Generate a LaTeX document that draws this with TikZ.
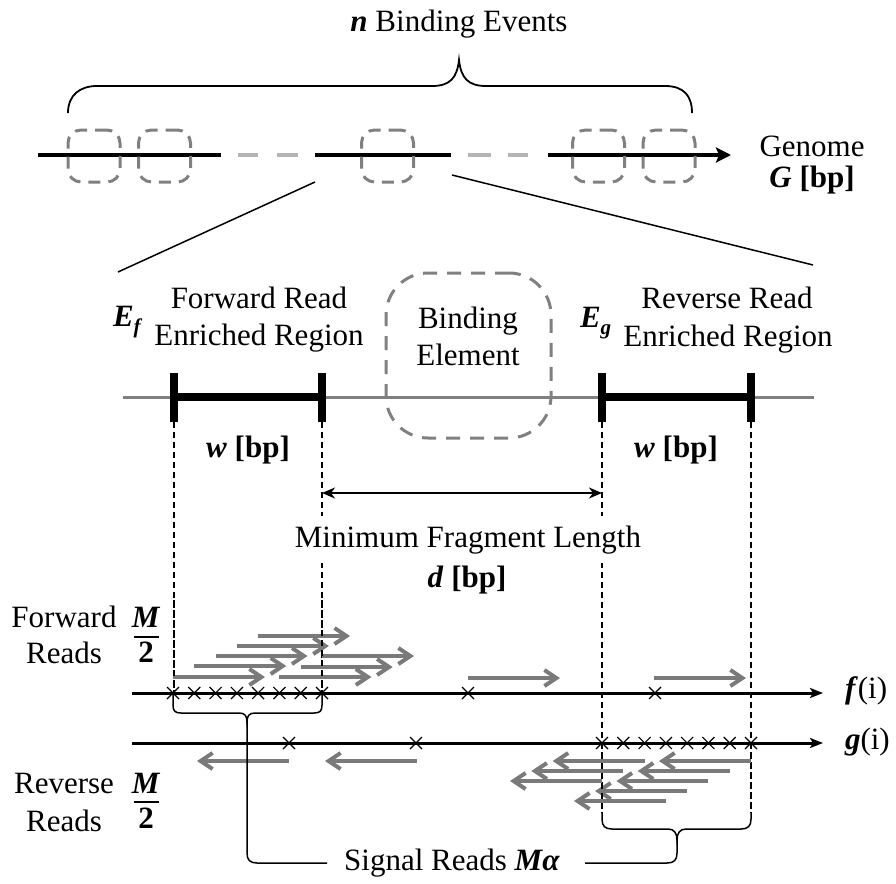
\documentclass[tikz,border=0pt]{standalone}
\usepackage{fontspec}
\setmainfont{Liberation Serif}
\usetikzlibrary{arrows.meta}
\newcommand{\bvar}[1]{\textbf{\textit{#1}}}
\definecolor{readgrey}{RGB}{122,122,122}
\definecolor{boxgrey}{RGB}{128,128,128}
\definecolor{gapgrey}{RGB}{180,180,180}
\begin{document}
\begin{tikzpicture}[x=1pt,y=-1pt,
  every node/.style={inner sep=0pt, outer sep=0pt, font=\fontsize{31}{38}\selectfont},
  genomeline/.style={line width=4.5pt},
  gapline/.style={line width=4.5pt, draw=gapgrey},
  ebox/.style={draw=boxgrey, line width=3pt, dash pattern=on 12pt off 8pt, rounded corners=13pt, minimum width=52pt, minimum height=52pt},
  bigbox/.style={draw=boxgrey, line width=3pt, dash pattern=on 14pt off 10pt, rounded corners=42pt, minimum width=165pt, minimum height=165pt},
  thin/.style={line width=1.5pt},
  guide/.style={line width=1.5pt, dash pattern=on 6pt off 4pt},
  region/.style={line width=8pt},
  fread/.style={draw=readgrey, line width=4pt, -{Straight Barb[length=12pt,width=16pt]}},
  axis/.style={line width=3pt, -{Stealth[length=13pt,width=10pt,inset=3pt]}},
  xmark/.style={line width=1.2pt},
  dimarrow/.style={line width=2pt, {Stealth[length=13pt,width=11pt,inset=4pt]}-{Stealth[length=13pt,width=11pt,inset=4pt]}},
]
\useasboundingbox (0,0) rectangle (896,883);

% ---------- genome ----------
\draw[genomeline] (38,155) -- (221,155);
\draw[gapline] (238,155) -- (258,155) (277,155) -- (298,155);
\draw[genomeline] (315,155) -- (451,155);
\draw[gapline] (468,155) -- (491,155) (508,155) -- (528,155);
\draw[genomeline, -{Stealth[length=15pt,width=15pt,inset=3pt]}] (548,155) -- (731,155);
\foreach \x [count=\i] in {94,164.5,387.5,598.5,669}
  \node[ebox] (be\i) at (\x,156) {};

% top brace
\draw[line width=1.8pt] (68,113) .. controls (68,95) and (80,86) .. (97,86) -- (432,86)
  .. controls (450,86) and (457,78) .. (459,60)
  .. controls (461,78) and (468,86) .. (486,86) -- (665,86)
  .. controls (684,86) and (692,96) .. (692,113);
\node[anchor=base] (title) at (459,32) {\bvar{n} Binding Events};

\node[anchor=base] (genome) at (812,156) {Genome};
\node[anchor=base] (gsize) at (812,187) {\bvar{G} \textbf{[bp]}};

% zoom lines
\coordinate (zl1) at (315,182); \coordinate (zl2) at (118,272);
\coordinate (zr1) at (452,175); \coordinate (zr2) at (813,265);
\draw[thin] (zl1) -- (zl2);
\draw[thin] (zr1) -- (zr2);

% ---------- middle ----------
\draw[draw=boxgrey, line width=3pt] (123,397) -- (814,397);
\node[bigbox] (bind) at (468.5,355.5) {};
\node[anchor=base] (bind1) at (468,328) {Binding};
\node[anchor=base] (bind2) at (468,365) {Element};

\draw[region] (174,397) -- (322,397);
\draw[region] (602,397) -- (751,397);
\foreach \x in {174,322,602,751}
  \draw[region] (\x,373) -- (\x,422);

\node[anchor=base west] (ef) at (113,326) {\bvar{E}\raisebox{-7pt}{\fontsize{21}{21}\selectfont\bvar{f}}};
\node[anchor=base] (fr1) at (259,308) {Forward Read};
\node[anchor=base] (fr2) at (259,345) {Enriched Region};
\node[anchor=base west] (eg) at (580,327) {\bvar{E}\raisebox{-7pt}{\fontsize{21}{21}\selectfont\bvar{g}}};
\node[anchor=base] (rr1) at (727,308) {Reverse Read};
\node[anchor=base] (rr2) at (728,346) {Enriched Region};

\node[anchor=base] (wl) at (248,457) {\bvar{w} \textbf{[bp]}};
\node[anchor=base] (wr) at (676,457) {\bvar{w} \textbf{[bp]}};

% guides
\draw[guide] (174,422) -- (174,693);
\draw[guide] (322,422) -- (322,693);
\draw[guide] (602,422) -- (602,813);
\draw[guide] (751,422) -- (751,813);

\draw[dimarrow] (322,493) -- (602,493);
\node[anchor=base, fill=white, inner xsep=3pt, inner ysep=9pt] (mfl) at (468,547) {Minimum Fragment Length};
\node[anchor=base] (dbp) at (467,587) {\bvar{d} \textbf{[bp]}};

% ---------- reads ----------
\node[anchor=base] (fw1) at (64,627) {Forward};
\node[anchor=base] (fw2) at (64,663) {Reads};
\node[anchor=base] (fm) at (146,627) {\bvar{M}};
\node[anchor=base] (f2) at (146,662) {\textbf{2}};
\draw[line width=1.8pt] (134,637) -- (159,637);

\node[anchor=base] (rv1) at (64,793) {Reverse};
\node[anchor=base] (rv2) at (64,831) {Reads};
\node[anchor=base] (rm) at (146,793) {\bvar{M}};
\node[anchor=base] (r2) at (146,828) {\textbf{2}};
\draw[line width=1.8pt] (134,802) -- (159,802);

\draw[axis] (132,693) -- (823,693);
\draw[axis] (132,743) -- (823,743);
\node[anchor=base west] (fi) at (845,698) {\bvar{f}(i)};
\node[anchor=base west] (gi) at (845,749) {\bvar{g}(i)};

\foreach \x in {173,194.3,215.6,236.9,258.1,279.4,300.7,322,468,655}
  \draw[xmark] (\x-6,687) -- (\x+6,699) (\x-6,699) -- (\x+6,687);
\foreach \x in {602,623.3,644.6,665.9,687.1,708.4,729.7,751,289,416}
  \draw[xmark] (\x-6,737) -- (\x+6,749) (\x-6,749) -- (\x+6,737);

\foreach \x/\y in {173/677,194.3/666,215.6/656,236.9/646,258.1/636,279.4/677,300.7/667,322/656,468/678,654/678}
  \draw[fread] (\x,\y) -- ++(92,0);
\foreach \x/\y in {751/761,729.7/771,708.4/781,687.1/791,665.9/801,644.6/761,623.3/771,602/781,289/761,417/761}
  \draw[fread] (\x,\y) -- ++(-92,0);

% redraw guide dashes over reads
\draw[guide] (174,600) -- (174,693);
\draw[guide] (322,600) -- (322,693);
\draw[guide] (602,743) -- (602,813);
\draw[guide] (751,743) -- (751,813);

% ---------- braces and signal label ----------
\node[anchor=base] (signal) at (452,870) {Signal Reads \bvar{Mα}};
\coordinate (btl) at (247,722);
\coordinate (btr) at (677,840);
\draw[thin] (173,693) -- (173,705) .. controls (173,711) and (175,713) .. (181,713) -- (239,713)
  .. controls (245,713) and (247,716) .. (btl)
  .. controls (247,716) and (249,713) .. (255,713) -- (314,713)
  .. controls (320,713) and (322,711) .. (322,705) -- (322,693);
\draw[thin] (602,813) -- (602,819) .. controls (602,826) and (605,829) .. (612,829) -- (668,829)
  .. controls (674,829) and (677,833) .. (btr)
  .. controls (677,833) and (680,829) .. (686,829) -- (741,829)
  .. controls (748,829) and (751,826) .. (751,819) -- (751,813);
\draw[thin] (btl) -- (247,853) .. controls (247,860) and (250,863) .. (257,863) -- (327,863);
\draw[thin] (btr) -- (677,853) .. controls (677,860) and (674,863) .. (667,863) -- (585,863);
\end{tikzpicture}
\end{document}
